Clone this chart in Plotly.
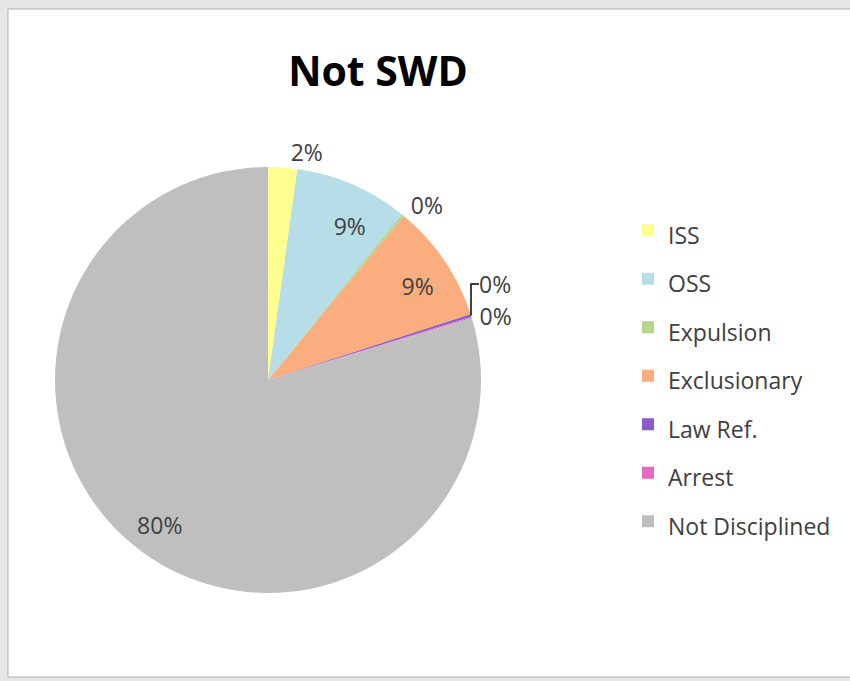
import plotly.graph_objects as go

categories = ["ISS", "OSS", "Expulsion", "Exclusionary", "Law Ref.", "Arrest", "Not Disciplined"]
values = [2.2, 8.6, 0.2, 9.0, 0.2, 0.1, 79.7]
colors = ["#FFFF8F", "#B7DEE8", "#B5D68A", "#FAAE80", "#8A5CC8", "#E36BBF", "#BFBFBF"]
text_positions = ["outside", "inside", "outside", "inside", "outside", "outside", "inside"]

W, H = 850, 681

def px(x):
    return x / W

def py(y):
    return 1 - y / H

cx, cy, r = 268, 380, 213

pct = "%{percent:.0%}"
sp = "&nbsp;"
br = "&nbsp;<br>"
# padding nudges the inside labels toward where the original places them
templates = [
    pct,
    sp * 5 + pct,
    pct,
    sp * 4 + pct,
    pct,
    pct,
    br * 4 + pct + sp * 15,
]

fig = go.Figure(go.Pie(
    labels=[f"<span style='font-size:23px'>{c}</span>" for c in categories],
    values=values,
    sort=False,
    direction="clockwise",
    rotation=0,
    marker=dict(colors=colors, line=dict(width=0)),
    texttemplate=templates,
    textposition=text_positions,
    insidetextorientation="horizontal",
    textfont=dict(family="Open Sans", size=23, color="#404040"),
    domain=dict(x=[px(cx - r), px(cx + r)], y=[py(cy + r), py(cy - r)]),
    hoverinfo="label+percent",
))

fig.update_layout(
    width=W, height=H,
    margin=dict(l=0, r=0, t=0, b=0),
    paper_bgcolor="#e6e6e6",
    font=dict(family="Open Sans", color="#404040"),
    title=dict(text="<b>Not SWD</b>", x=px(378), xanchor="center", y=py(72), yanchor="middle",
               font=dict(family="Open Sans", size=41, color="#000000")),
    legend=dict(x=px(628), xanchor="left", y=py(201), yanchor="top",
                font=dict(family="Open Sans", size=35, color="#404040"),
                bgcolor="rgba(0,0,0,0)"),
    shapes=[dict(type="rect", xref="paper", yref="paper",
                 x0=px(8), x1=px(870), y0=py(677), y1=py(9),
                 fillcolor="#ffffff", line=dict(color="#b0b0b0", width=1), layer="below")],
)

fig.write_html("out.html")
